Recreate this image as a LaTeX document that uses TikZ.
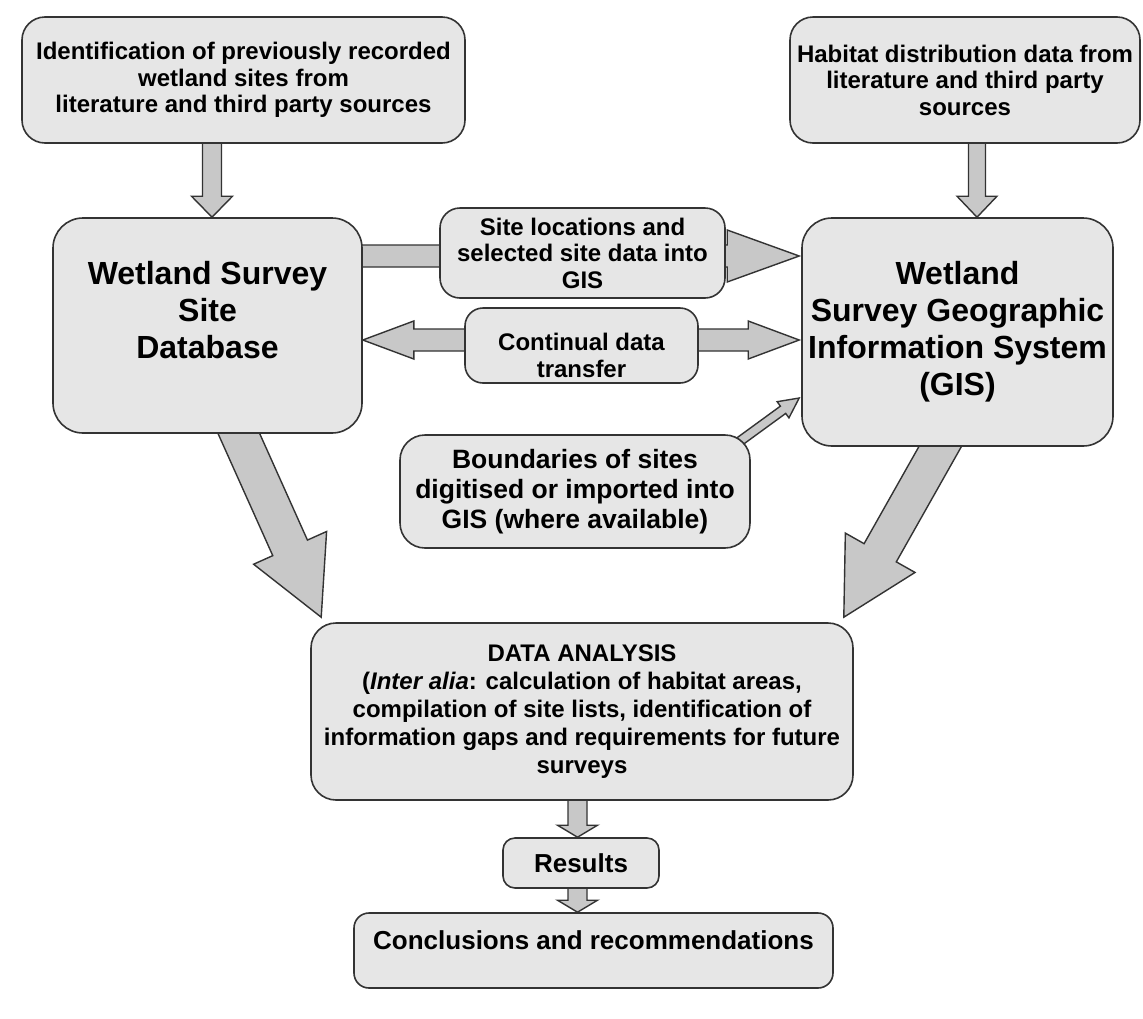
\documentclass[tikz,border=0pt]{standalone}
\usepackage{fontspec}
\setmainfont{Liberation Sans}
\usetikzlibrary{calc,backgrounds}

\definecolor{boxgray}{HTML}{E6E6E6}
\definecolor{arrowgray}{HTML}{C8C8C8}
\definecolor{edgegray}{HTML}{333333}

\tikzset{
  box/.style={draw=edgegray, fill=boxgray, line width=1.6pt, rounded corners=20pt,
    align=center, inner sep=0pt, font=\bfseries\fontsize{24pt}{26.5pt}\selectfont},
  bigbox/.style={box, rounded corners=30pt},
  txt/.style={align=center, inner sep=0pt, font=\bfseries\fontsize{24pt}{26.5pt}\selectfont},
  midtxt/.style={txt, font=\bfseries\fontsize{26pt}{30pt}\selectfont},
  bigtxt/.style={txt, font=\bfseries\fontsize{32pt}{37pt}\selectfont},
  arrowbody/.style={draw=edgegray, fill=arrowgray, line width=1.4pt, line join=miter},
}

% block arrow: from, to, shaft half width, head half width, head length (pt)
\newcommand{\fatarrow}[5]{%
  \coordinate (fa-s) at (#1);
  \coordinate (fa-e) at (#2);
  \coordinate (fa-b) at ($(fa-e)!#5pt!(fa-s)$);
  \filldraw[arrowbody] ($(fa-s)!#3pt!90:(fa-e)$) -- ($(fa-b)!#3pt!-90:(fa-s)$)
    -- ($(fa-b)!#4pt!-90:(fa-s)$) -- (fa-e) -- ($(fa-b)!#4pt!90:(fa-s)$)
    -- ($(fa-b)!#3pt!90:(fa-s)$) -- ($(fa-s)!#3pt!-90:(fa-e)$) -- cycle;
}

\begin{document}
\begin{tikzpicture}[x=1pt,y=-1pt]
\useasboundingbox (0,0) rectangle (1143,1018);

% sources
\node (ident) at (243.5,80) [box,minimum width=443pt,minimum height=126pt,rounded corners=23pt]
  {Identification of previously recorded\\wetland sites from\\literature and third party sources};
\node (habitat) at (965,80) [box,minimum width=350pt,minimum height=126pt,rounded corners=23pt]
  {Habitat distribution data from\\literature and third party\\sources};

% database and GIS
\node (dbase) at (207.5,325.5) [bigbox,minimum width=309pt,minimum height=215pt,
  label={[bigtxt,yshift=15pt]center:{Wetland Survey\\Site\\Database}}] {};
\node (gis) at (957.5,332) [bigbox,minimum width=311pt,minimum height=228pt,
  font=\bfseries\fontsize{32pt}{37pt}\selectfont]
  {Wetland\\Survey Geographic\\Information System\\(GIS)};

% links between them
\node (locations) at (582.5,253) [box,minimum width=285pt,minimum height=90pt]
  {Site locations and\\selected site data into\\GIS};
\node (transfer) at (581.5,345.5) [box,minimum width=233pt,minimum height=75pt,rounded corners=18pt,
  label={[txt,yshift=-10pt]center:{Continual data\\transfer}}] {};
\node (bounds) at (575,491.5) [box,minimum width=350pt,minimum height=113pt,rounded corners=25pt,
  font=\bfseries\fontsize{26.5pt}{30pt}\selectfont]
  {Boundaries of sites\\digitised or imported into\\GIS (where available)};

% analysis and output
\node (analysis) at (582,711.5) [box,minimum width=542pt,minimum height=177pt,rounded corners=25pt,
  font=\bfseries\fontsize{24pt}{28pt}\selectfont]
  {DATA ANALYSIS\\(\textit{Inter alia}: calculation of habitat areas,\\compilation of site lists, identification of\\information gaps and requirements for future\\surveys};
\node (results) at (581,863) [box,minimum width=156pt,minimum height=50pt,rounded corners=12pt,
  font=\bfseries\fontsize{26pt}{30pt}\selectfont] {Results};
\node (concl) at (593.5,950.5) [box,minimum width=479pt,minimum height=75pt,rounded corners=15pt,
  label={[midtxt,yshift=10pt]center:{Conclusions and recommendations}}] {};

\begin{scope}[on background layer]
\fill[white] (0,0) rectangle (1143,1018);
\fatarrow{$(ident.south)+(-31.5,-10)$}{$(dbase.north)+(4.5,0)$}{9.5}{20.5}{21}
\fatarrow{$(habitat.south)+(12,-10)$}{$(gis.north)+(19.5,0)$}{8.5}{20}{21}
\fatarrow{$(dbase.east)+(-10,-69.5)$}{$(gis.west)+(-2,-76)$}{11}{26}{72}
\fatarrow{$(transfer.center)+(0,-5.5)$}{$(dbase.east)+(0,14.5)$}{11}{19}{51}
\fatarrow{$(transfer.center)+(0,-5.5)$}{$(gis.west)+(-2,8)$}{11}{19}{51}
\fatarrow{$(bounds.north east)+(-15,10)$}{$(gis.west)+(-2,66)$}{4.5}{10}{20}
\fatarrow{$(dbase.south)+(22.5,-20)$}{$(analysis.north west)+(11,-5)$}{19}{40}{76}
\fatarrow{$(gis.south)+(-4.5,-23)$}{$(analysis.north east)+(-10,-5)$}{18.5}{40}{74}
\fatarrow{$(analysis.south)+(-4.5,-5)$}{$(results.north)+(-3.5,0)$}{9.5}{20}{12}
\fatarrow{$(results.south)+(-3.5,-5)$}{$(concl.north)+(-16,0)$}{9.5}{20}{12}
\end{scope}
\end{tikzpicture}
\end{document}
